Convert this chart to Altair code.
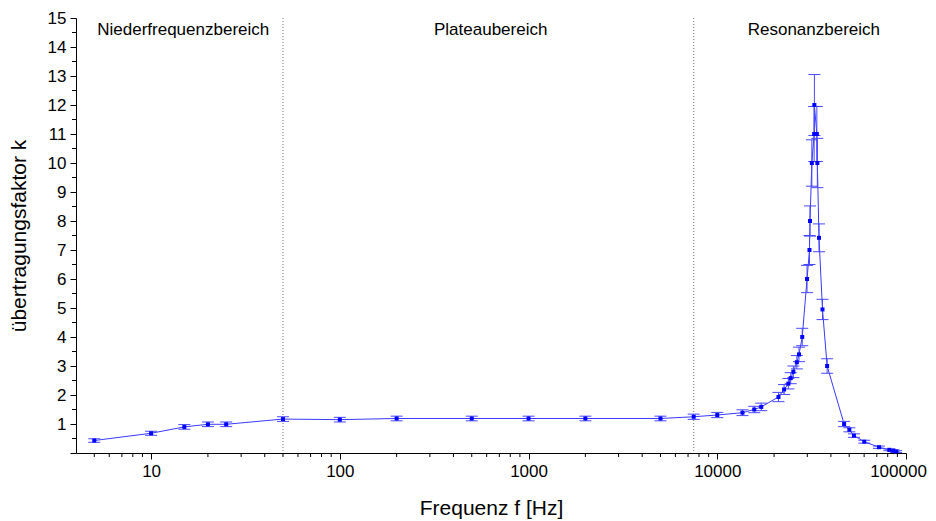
import altair as alt
import pandas as pd

# ---- data ----
freq = [5, 10, 15, 20, 25, 50, 100, 200, 500, 1000, 2000, 5000, 7500,
        10000, 13600, 15700, 17100, 21100, 22600, 23800, 24500, 25300,
        26400, 27100, 28200, 29900, 30800, 31000, 31700, 32600, 32700,
        33700, 33900, 34600, 36100, 38200, 47000, 50100, 53000, 60100,
        71900, 81600, 85700, 88600]
k = [0.43, 0.68, 0.90, 0.99, 0.99, 1.17, 1.15, 1.19, 1.19, 1.19, 1.19, 1.19, 1.25,
     1.31, 1.39, 1.50, 1.59, 1.93, 2.19, 2.39, 2.58, 2.80,
     3.13, 3.40, 4.00, 6.00, 7.00, 8.00, 10.00, 11.00, 12.00,
     11.00, 10.00, 7.42, 4.95, 3.00, 1.00, 0.80, 0.60, 0.39,
     0.20, 0.11, 0.08, 0.05]
err = [0.06, 0.07, 0.08, 0.08, 0.08, 0.08, 0.08, 0.08, 0.08, 0.08, 0.08, 0.08, 0.09,
       0.09, 0.10, 0.11, 0.13, 0.16, 0.17, 0.18, 0.19, 0.20,
       0.23, 0.25, 0.30, 0.47, 0.50, 0.52, 0.80, 0.95, 1.05,
       0.95, 0.85, 0.48, 0.35, 0.25, 0.09, 0.07, 0.06, 0.05,
       0.04, 0.03, 0.03, 0.03]

x_major = [10, 100, 1000, 10000, 100000]
x_minor = [m * d for d in [1, 10, 100, 1000, 10000] for m in range(2, 10) if 4 < m * d < 100000]
y_major = list(range(0, 16))
y_minor = [i + 0.5 for i in range(0, 15)]

boundaries = [50, 7500]
region_labels = ["Niederfrequenzbereich", "Plateaubereich", "Resonanzbereich"]
region_x = [14.8, 630, 32500]
region_y = [14.6, 14.6, 14.6]

df = pd.DataFrame({"f": freq, "k": k, "e": err})
df["lo"] = df["k"] - df["e"]
df["hi"] = df["k"] + df["e"]

FONT = "Liberation Sans"
W, H = 830, 435
BLUE = "#0000ff"

xscale = alt.Scale(type="log", domain=[4, 100000], nice=False)
yscale = alt.Scale(domain=[0, 15], nice=False, zero=False)

xaxis = alt.Axis(values=x_major, format="d", title="Frequenz f [Hz]", grid=False,
                 tickSize=6, labelFontSize=17, titleFontSize=21, titleFontWeight="normal",
                 labelPadding=4, titlePadding=18, labelFont=FONT, titleFont=FONT,
                 labelFlush=False, labelOverlap=False,
                 labelOffset={"condition": {"test": "datum.value == 100000", "value": -8}, "value": 0},
                 domainColor="black", tickColor="black", labelColor="black", titleColor="black")
yaxis = alt.Axis(values=y_major, labelExpr="datum.value == 0 ? '' : datum.label",
                 title="übertragungsfaktor k", grid=False,
                 tickSize=6, labelFontSize=17, titleFontSize=21, titleFontWeight="normal",
                 labelPadding=4, titlePadding=18, labelFont=FONT, titleFont=FONT,
                 labelFlush=False,
                 domainColor="black", tickColor="black", labelColor="black", titleColor="black")


def X(field):
    return alt.X(field, scale=xscale, axis=xaxis)


def Y(field):
    return alt.Y(field, scale=yscale, axis=yaxis)


base = alt.Chart(df)

line = base.mark_line(color="#3a3aff", strokeWidth=1).encode(x=X("f:Q"), y=Y("k:Q"))
bars = base.mark_rule(color="#4848ff", strokeWidth=1).encode(x=X("f:Q"), y=Y("lo:Q"), y2="hi:Q")
cap_lo = base.mark_tick(orient="horizontal", size=12, thickness=1, color="#4848ff", opacity=1).encode(
    x=X("f:Q"), y=Y("lo:Q"))
cap_hi = base.mark_tick(orient="horizontal", size=12, thickness=1, color="#4848ff", opacity=1).encode(
    x=X("f:Q"), y=Y("hi:Q"))
pts = base.mark_square(size=16, color=BLUE, opacity=1).encode(x=X("f:Q"), y=Y("k:Q"))

vlines = alt.Chart(pd.DataFrame({"b": boundaries})).mark_rule(
    color="#777777", strokeDash=[1, 2], strokeWidth=1).encode(x=X("b:Q"))

labels = alt.Chart(pd.DataFrame({"t": region_labels, "x": region_x, "y": region_y})).mark_text(
    font=FONT, fontSize=17, color="black", baseline="middle", align="center").encode(
    x=X("x:Q"), y=Y("y:Q"), text="t:N")

xminor = alt.Chart(pd.DataFrame({"m": x_minor})).mark_rule(color="black", strokeWidth=1).encode(
    x=X("m:Q"), y=alt.value(H), y2=alt.value(H + 4))
yminor = alt.Chart(pd.DataFrame({"m": y_minor})).mark_rule(color="black", strokeWidth=1).encode(
    y=Y("m:Q"), x=alt.value(0), x2=alt.value(-4))

chart = alt.layer(line, vlines, bars, cap_lo, cap_hi, pts, labels, xminor, yminor).properties(
    width=W, height=H,
    autosize=alt.AutoSizeParams(type="none"),
    padding={"left": 68, "top": 10, "right": 22, "bottom": 66},
    background="white",
).configure_view(stroke=None)

chart.save("out.html", embed_options={"renderer": "svg", "actions": False})
